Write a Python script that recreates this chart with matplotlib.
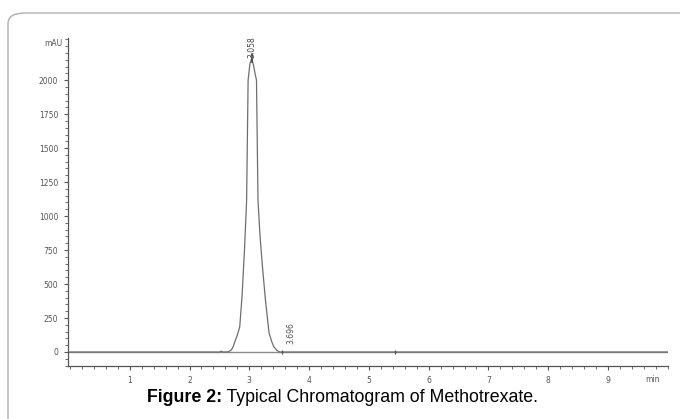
import matplotlib
matplotlib.use("Agg")
import matplotlib.pyplot as plt
from matplotlib.patches import FancyBboxPatch
from matplotlib.ticker import MultipleLocator

tempo = [0.0, 2.50, 2.53, 2.56, 2.60, 2.65, 2.70, 2.73, 2.77, 2.80, 2.84, 2.88,
         2.92, 2.955, 2.98, 3.01, 3.04, 3.07, 3.10, 3.12, 3.145, 3.18, 3.22,
         3.27, 3.33, 3.38, 3.41, 3.46, 3.51, 3.55, 5.43, 10.0]
sinal = [0, 0, 6, 0, 0, 2, 15, 39, 90, 125, 186, 420,
         760, 1118, 2000, 2120, 2160, 2110, 2040, 2000, 1118, 850, 627,
         382, 140, 70, 39, 12, 0, 0, 0, 0]

picos = [3.058, 3.696]
rotulos_picos = ["3.058", "3.696"]
y_ticks = [0, 250, 500, 750, 1000, 1250, 1500, 1750, 2000]
x_ticks = [1, 2, 3, 4, 5, 6, 7, 8, 9]
legenda = "Typical Chromatogram of Methotrexate."

fig = plt.figure(figsize=(6.8, 4.19), dpi=100)

# moldura arredondada (só o canto superior esquerdo aparece)
moldura = FancyBboxPatch((8 / 680, -0.05), 1.1, 1 - 13 / 419 + 0.05,
                         boxstyle="round,pad=0,rounding_size=0.025",
                         transform=fig.transFigure, fill=False,
                         edgecolor="#b0b0b0", linewidth=1.0, clip_on=False)
fig.patches.append(moldura)

ax = fig.add_axes([0.1, 0.1265, 0.882, 0.7825])
ax.axhline(0, color="#8a8a8a", linewidth=1.0, zorder=1)
ax.plot(tempo, sinal, color="#6e6e6e", linewidth=0.9, zorder=2)

ax.set_xlim(-0.033, 10.0)
ax.set_ylim(-103, 2309)

ax.xaxis.set_minor_locator(MultipleLocator(0.2))
ax.yaxis.set_minor_locator(MultipleLocator(50))
ax.set_xticks(x_ticks)
ax.set_yticks(y_ticks)
ax.tick_params(axis="both", which="major", labelsize=5.5, length=3, width=0.8,
               colors="#555555", pad=4)
ax.tick_params(axis="both", which="minor", length=2, width=0.6, colors="#555555")

for lado in ("top", "right"):
    ax.spines[lado].set_visible(False)
for lado in ("left", "bottom"):
    ax.spines[lado].set_color("#555555")
    ax.spines[lado].set_linewidth(0.9)

ax.text(-0.12, 2270, "mAU", ha="right", va="center", fontsize=5.5, color="#555555")
ax.text(9.75, -205, "min", ha="center", va="center", fontsize=5.5, color="#555555")

# marcações dos picos
ax.text(picos[0] - 0.02, 2165, rotulos_picos[0], rotation=90, ha="center",
        va="bottom", fontsize=5.5, color="#444444")
ax.plot([picos[0] - 0.02] * 2, [2130, 2190], color="#444444", linewidth=1.2)
ax.text(picos[1], 60, rotulos_picos[1], rotation=90, ha="center",
        va="bottom", fontsize=5.5, color="#555555")
ax.plot([3.54], [0], marker="|", color="#555555", markersize=3)
ax.plot([5.43], [0], marker="|", color="#555555", markersize=3)

# legenda da figura: parte em negrito + restante logo ao lado
y_leg = 1 - 397 / 419
t1 = fig.text(147 / 680, y_leg, "Figure 2:", fontsize=12.8, fontweight="bold",
              family="Liberation Sans", ha="left", va="center")
fig.canvas.draw()
bb = t1.get_window_extent()
fig.text(bb.x1 / fig.bbox.width, y_leg, " " + legenda, fontsize=12.8,
         family="Liberation Sans", ha="left", va="center")

fig.savefig("out.png", dpi=100)
